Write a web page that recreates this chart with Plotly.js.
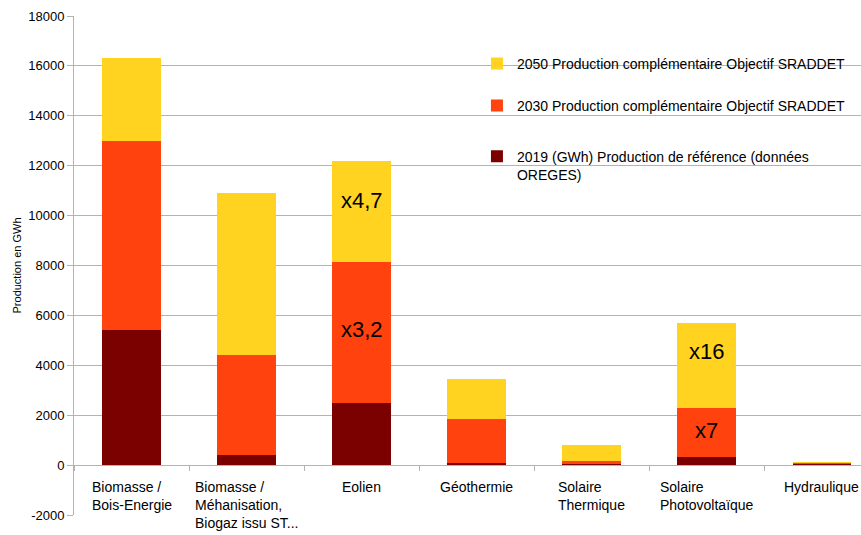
<!DOCTYPE html>
<html>
<head>
<meta charset="utf-8">
<script src="https://cdn.plot.ly/plotly-3.0.1.min.js"></script>
<style>html,body{margin:0;padding:0;background:#fff;}#chart{width:861px;height:535px;}</style>
</head>
<body>
<div id="chart"></div>
<script>
// Categories and labels
var categories = ["Biomasse / Bois-Energie", "Biomasse / Méhanisation, Biogaz issu ST...", "Eolien", "Géothermie", "Solaire Thermique", "Solaire Photovoltaïque", "Hydraulique"];
var categoryLabels = ["Biomasse /<br>Bois-Energie", "Biomasse /<br>Méhanisation,<br>Biogaz issu ST...", "Eolien", "Géothermie", "Solaire<br>Thermique", "Solaire<br>Photovoltaïque", "Hydraulique"];

// Series values (GWh) — stacked increments
var prod2019 = [5400, 400, 2500, 80, 40, 330, 50];
var compl2030 = [7600, 4000, 5650, 1770, 120, 1970, 40];
var compl2050 = [3300, 6500, 4050, 1600, 640, 3400, 20];

var seriesNames = ["2019 (GWh) Production de référence (données<br>OREGES)", "2030 Production complémentaire Objectif SRADDET", "2050 Production complémentaire Objectif SRADDET"];

// Multiplier labels
var multLabels = ["x4,7", "x3,2", "x16", "x7"];
var multCats = ["Eolien", "Eolien", "Solaire Photovoltaïque", "Solaire Photovoltaïque"];
var multY = [10600, 5450, 4570, 1400];

// Y ticks
var yTickVals = [-2000, 0, 2000, 4000, 6000, 8000, 10000, 12000, 14000, 16000, 18000];
var yTickText = ["-2000", "0", "2000", "4000", "6000", "8000", "10000", "12000", "14000", "16000", "18000"];

var colors = ["#7b0000", "#ff420e", "#ffd320"];
var seriesVals = [prod2019, compl2030, compl2050];
var legendIds = ["legend3", "legend2", "legend"];

var traces = seriesVals.map(function (vals, i) {
  return {
    type: "bar",
    x: categories,
    y: vals,
    name: seriesNames[i],
    legend: legendIds[i],
    marker: {color: colors[i], line: {width: 0}},
    hoverinfo: "y+name"
  };
});

var FONT = "Liberation Sans, Arial, sans-serif";

var annotations = categories.map(function (c, i) {
  return {
    x: c, y: 0, xref: "x", yref: "y",
    text: categoryLabels[i], showarrow: false,
    xanchor: "center", yanchor: "top", align: "left",
    yshift: -12,
    font: {family: FONT, size: 14, color: "#000"}
  };
});
multLabels.forEach(function (t, i) {
  annotations.push({
    x: multCats[i], y: multY[i], xref: "x", yref: "y",
    text: t, showarrow: false, xanchor: "center", yanchor: "middle",
    font: {family: FONT, size: 22, color: "#000"}
  });
});

function legendAt(y) {
  return {
    x: 0.512, y: y, xanchor: "left", yanchor: "top",
    bgcolor: "rgba(0,0,0,0)", valign: "top",
    font: {family: FONT, size: 14, color: "#000"},
    itemwidth: 30
  };
}

var layout = {
  width: 861, height: 535,
  margin: {l: 74, r: 0, t: 16, b: 20, pad: 0},
  paper_bgcolor: "#fff", plot_bgcolor: "#fff",
  barmode: "stack",
  bargap: 0.49,
  font: {family: FONT, size: 12, color: "#000"},
  showlegend: true,
  legend: legendAt(0.936),
  legend2: legendAt(0.852),
  legend3: legendAt(0.750),
  xaxis: {
    type: "category",
    range: [-0.5, 6.34],
    anchor: "free", position: 0.1,
    showgrid: false, zeroline: false, showline: false,
    showticklabels: false,
    ticks: "outside", tickson: "boundaries", ticklen: 5, tickcolor: "#b3b3b3", tickwidth: 1
  },
  yaxis: {
    range: [-2000, 18000],
    tickvals: yTickVals, ticktext: yTickText,
    showgrid: true, gridcolor: "#b3b3b3", gridwidth: 1,
    zeroline: true, zerolinecolor: "#b3b3b3", zerolinewidth: 1,
    showline: true, linecolor: "#b3b3b3", linewidth: 1,
    ticks: "outside", ticklen: 6, tickcolor: "#b3b3b3",
    tickfont: {size: 13, color: "#000"},
    automargin: true,
    title: {text: "Production en GWh", font: {size: 11, color: "#000"}, standoff: 4}
  },
  annotations: annotations
};

Plotly.newPlot("chart", traces, layout, {displayModeBar: false, staticPlot: true});
</script>
</body>
</html>
